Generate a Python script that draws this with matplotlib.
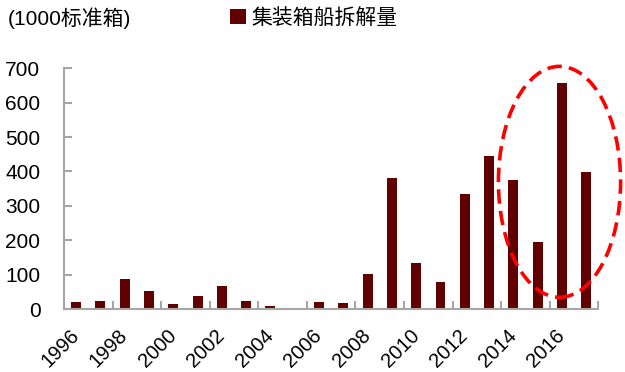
import matplotlib.pyplot as plt
from matplotlib.patches import Ellipse
import numpy as np

plt.rcParams['font.family'] = ['Liberation Sans', 'Noto Sans CJK SC', 'DejaVu Sans']

years = list(range(1996, 2018))
scrapped = [20, 23, 87, 52, 15, 37, 67, 25, 8, 2, 22, 19,
            101, 380, 134, 78, 336, 446, 374, 195, 657, 399]
unit_label = '(1000标准箱)'
series_label = '集装箱船拆解量'

bar_color = '#600000'
axis_color = '#a6a6a6'

fig = plt.figure(figsize=(6.25, 3.72), dpi=100)
ax = fig.add_axes([0.1024, 0.169, 0.855, 0.6475])

x = np.arange(len(years))
ax.bar(x, scrapped, width=0.41, color=bar_color, label=series_label, zorder=2)

ax.set_xlim(-0.5, len(years) - 0.5)
ax.set_ylim(0, 700)
ax.set_yticks(range(0, 701, 100))

# labels on every other year, tick marks between year pairs
ax.set_xticks(x[::2])
ax.set_xticklabels([str(y) for y in years[::2]], rotation=45, ha='right',
                   va='center', rotation_mode='anchor', fontsize=14.5)
ax.set_xticks(np.arange(1.5, len(years), 2), minor=True)
ax.tick_params(axis='x', which='major', length=0, pad=17)
ax.tick_params(axis='x', which='minor', direction='in', length=6,
               width=1.5, color=axis_color)
ax.tick_params(axis='y', direction='in', length=6, width=1.5,
               color=axis_color, labelsize=15, pad=17)

for side in ['top', 'right']:
    ax.spines[side].set_visible(False)
for side in ['left', 'bottom']:
    ax.spines[side].set_color(axis_color)
    ax.spines[side].set_linewidth(1.5)

# highlight the recent years
ring = Ellipse((19.9, 370), width=5.03, height=671, fill=False,
               edgecolor='#ff0000', linewidth=2.6, linestyle=(0, (4, 2)),
               clip_on=False, zorder=3)
ax.add_patch(ring)

fig.text(0.012, 0.952, unit_label, fontsize=15, va='center', ha='left')
ax.legend(loc='center left', bbox_to_anchor=(0.338, 0.952),
          bbox_transform=fig.transFigure, frameon=False, fontsize=15,
          handlelength=0.75, handleheight=0.75, handletextpad=0.3)

fig.savefig('out.png', dpi=100)
